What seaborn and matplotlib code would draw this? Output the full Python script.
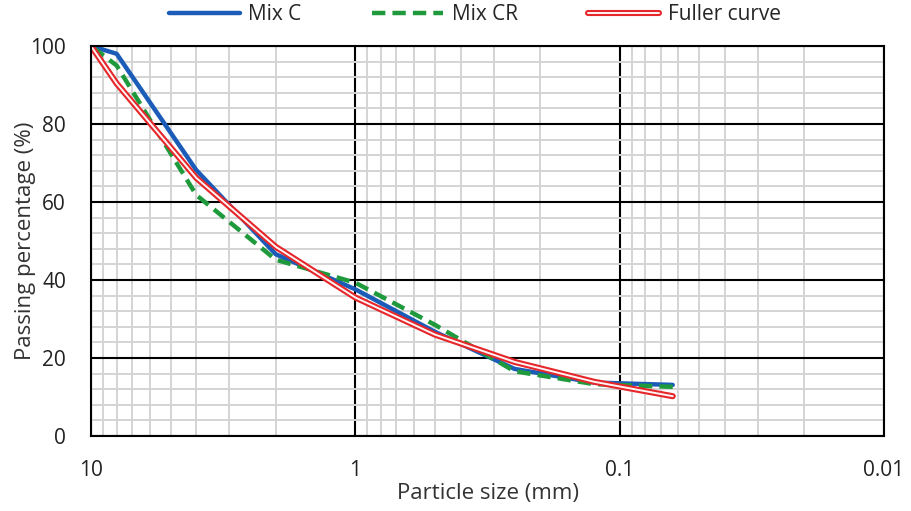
import pandas as pd
import seaborn as sns
import matplotlib.pyplot as plt
import matplotlib.patheffects as pe
from matplotlib.ticker import LogLocator, MultipleLocator, FixedLocator, FixedFormatter, NullFormatter

# sieve sizes (mm) and passing percentages
sizes = [10, 8, 4, 2, 1, 0.5, 0.25, 0.125, 0.063]
mix_c = [100, 98, 68.2, 46.6, 37.6, 26.7, 17.2, 13.7, 13.1]
mix_cr = [100, 95, 61.8, 45.2, 39.3, 28.5, 16.6, 13.3, 12.6]
fuller = [100, 90.4, 66.2, 48.5, 35.5, 26.0, 19.0, 13.9, 10.2]

x_ticks = [10, 1, 0.1, 0.01]
x_ticklabels = ["10", "1", "0.1", "0.01"]

df = pd.DataFrame({"size": sizes, "Mix C": mix_c, "Mix CR": mix_cr, "Fuller curve": fuller})

sns.set_style("white")
plt.rcParams["font.family"] = ["Open Sans", "DejaVu Sans"]

fig = plt.figure(figsize=(9.11, 5.11), dpi=100)
ax = fig.add_axes([0.0999, 0.1468, 0.8705, 0.7632])

sns.lineplot(data=df, x="size", y="Mix C", ax=ax, color="#1b5cb8", lw=3.2, label="Mix C")
sns.lineplot(data=df, x="size", y="Mix CR", ax=ax, color="#1e9a3c", lw=3.2, label="Mix CR")
sns.lineplot(data=df, x="size", y="Fuller curve", ax=ax, color="#fff4f4", lw=1.4, label="Fuller curve",
             path_effects=[pe.Stroke(linewidth=4.4, foreground="#e5262a"), pe.Normal()])
ax.lines[1].set_dashes([3, 1.6])

ax.set_xscale("log")
ax.set_xlim(10, 0.01)
ax.set_ylim(0, 100)

ax.xaxis.set_major_locator(FixedLocator(x_ticks))
ax.xaxis.set_major_formatter(FixedFormatter(x_ticklabels))
ax.xaxis.set_minor_locator(LogLocator(base=10, subs=range(2, 10)))
ax.xaxis.set_minor_formatter(NullFormatter())
ax.yaxis.set_major_locator(MultipleLocator(20))
ax.yaxis.set_minor_locator(MultipleLocator(4))

ax.grid(which="minor", color="#d4d4d4", lw=1.4, zorder=0)
ax.grid(which="major", color="black", lw=1.5, zorder=0.5)
ax.set_axisbelow(True)
ax.tick_params(which="both", length=0, labelsize=15, colors="#222222")
ax.tick_params(axis="x", pad=17)
ax.tick_params(axis="y", pad=18)

for s in ax.spines.values():
    s.set_color("black")
    s.set_linewidth(1.5)

ax.set_xlabel("Particle size (mm)", fontsize=16, color="#333333", labelpad=2)
ax.set_ylabel("Passing percentage (%)", fontsize=16, color="#333333", labelpad=-4)

ax.legend(loc="center", bbox_to_anchor=(0.484, 1.08), ncol=3, frameon=False, fontsize=15,
          handlelength=3.4, handletextpad=0.4, columnspacing=3.4)

plt.savefig("out.png", dpi=100)
